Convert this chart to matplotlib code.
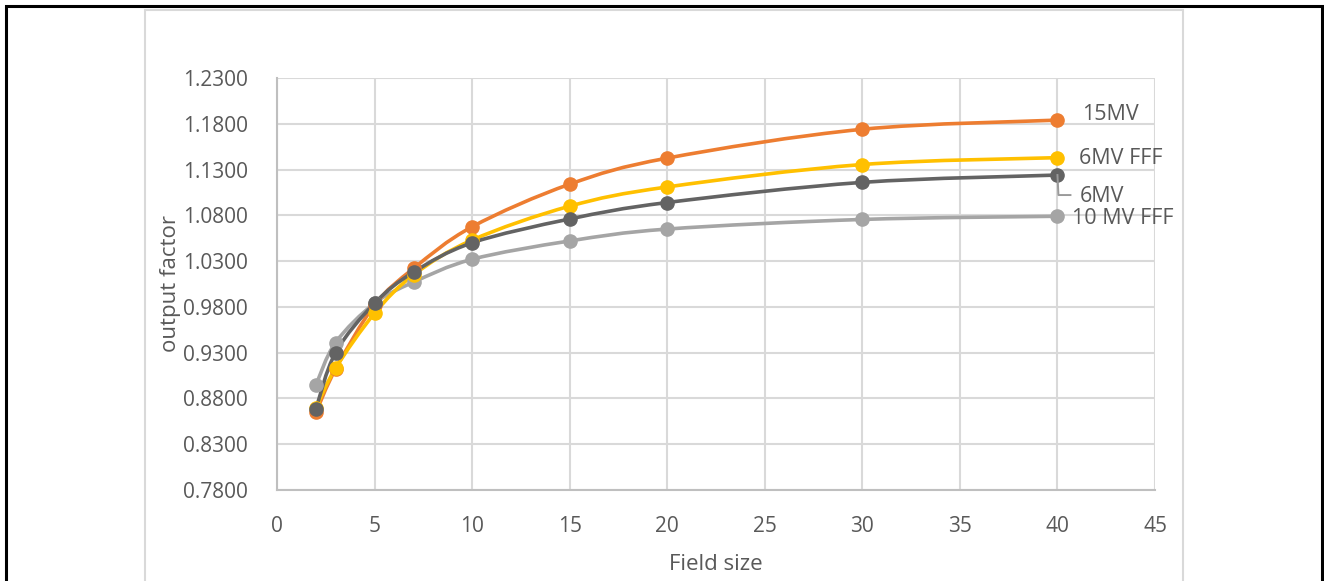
import numpy as np
import matplotlib.pyplot as plt
from matplotlib.path import Path
from matplotlib.patches import PathPatch, Rectangle
from matplotlib.lines import Line2D
from matplotlib.transforms import IdentityTransform

plt.rcParams['font.family'] = ['Open Sans', 'DejaVu Sans']

field_size = [2, 3, 5, 7, 10, 15, 20, 30, 40]

of_10mv_fff = [0.895, 0.941, 0.984, 1.007, 1.032, 1.052, 1.065, 1.0755, 1.079]
of_15mv = [0.865, 0.912, 0.982, 1.022, 1.0675, 1.114, 1.1425, 1.174, 1.184]
of_6mv_fff = [0.870, 0.913, 0.973, 1.015, 1.053, 1.090, 1.111, 1.1355, 1.143]
of_6mv = [0.869, 0.930, 0.984, 1.018, 1.050, 1.076, 1.094, 1.116, 1.124]

series = [
    ('10 MV FFF', of_10mv_fff, '#A5A5A5'),
    ('15MV', of_15mv, '#ED7D31'),
    ('6MV FFF', of_6mv_fff, '#FFC000'),
    ('6MV', of_6mv, '#636363'),
]

y_ticks = [0.78, 0.83, 0.88, 0.93, 0.98, 1.03, 1.08, 1.13, 1.18, 1.23]
x_ticks = [0, 5, 10, 15, 20, 25, 30, 35, 40, 45]

text_grey = '#595959'
grid_grey = '#D9D9D9'


def smooth_path(x, y):
    # spreadsheet-style smoothed line: cubic bezier through every point
    pts = np.column_stack([x, y]).astype(float)
    verts = [pts[0]]
    codes = [Path.MOVETO]
    n = len(pts)
    for i in range(n - 1):
        p0 = pts[max(i - 1, 0)]
        p1 = pts[i]
        p2 = pts[i + 1]
        p3 = pts[min(i + 2, n - 1)]
        c1 = p1 + (p2 - p0) / 6.0
        c2 = p2 - (p3 - p1) / 6.0
        verts += [c1, c2, p2]
        codes += [Path.CURVE4] * 3
    return Path(verts, codes)


fig = plt.figure(figsize=(13.24, 5.81), dpi=100)
fig.patch.set_facecolor('white')

# outer page frame and chart frame
fig.add_artist(Rectangle((6 / 1324, -0.05), 1316 / 1324, 1 - 6 / 581 + 0.05,
                         transform=fig.transFigure, fill=False,
                         edgecolor='black', linewidth=2.2))
fig.add_artist(Rectangle((145 / 1324, -0.05), 1038 / 1324, 1 - 10 / 581 + 0.05,
                         transform=fig.transFigure, fill=False,
                         edgecolor='#D9D9D9', linewidth=1.5))

ax = fig.add_axes([277 / 1324, 1 - 490 / 581, 878 / 1324, 412 / 581])

for name, vals, color in series:
    patch = PathPatch(smooth_path(field_size, vals), facecolor='none',
                      edgecolor=color, linewidth=2.6, capstyle='round',
                      zorder=3)
    ax.add_patch(patch)
    ax.plot(field_size, vals, linestyle='none', marker='o', markersize=9.5,
            color=color, zorder=4, clip_on=False)

ax.set_xlim(0, 45)
ax.set_ylim(0.78, 1.23)
ax.set_xticks(x_ticks)
ax.set_yticks(y_ticks)
ax.set_yticklabels([f'{v:.4f}' for v in y_ticks])
ax.grid(True, color=grid_grey, linewidth=1.5)
ax.set_axisbelow(True)

for side in ['top', 'right']:
    ax.spines[side].set_visible(False)
for side in ['left', 'bottom']:
    ax.spines[side].set_color('#BFBFBF')
    ax.spines[side].set_linewidth(1.5)

ax.tick_params(length=0, labelsize=15, labelcolor=text_grey)
ax.tick_params(axis='y', pad=21)
ax.tick_params(axis='x', pad=19)

ax.set_xlabel('Field size', fontsize=16, color=text_grey, labelpad=12)
ax.set_ylabel('output factor', fontsize=16, color=text_grey, labelpad=1)

# series labels at the right-hand end
label_style = dict(fontsize=15.5, color=text_grey, va='center', ha='left',
                   textcoords='offset pixels')
ax.annotate('15MV', xy=(40, of_15mv[-1]), xytext=(25, 6), **label_style)
ax.annotate('6MV FFF', xy=(40, of_6mv_fff[-1]), xytext=(22, -1), **label_style)
ax.annotate('10 MV FFF', xy=(40, of_10mv_fff[-1]), xytext=(15, -2),
            **label_style)
ax.annotate('6MV', xy=(40, of_6mv[-1]), xytext=(22, -21), **label_style)

# leader line from the 6MV end point down to its label
px, py = ax.transData.transform((40, of_6mv[-1]))
fig.add_artist(Line2D([px, px + 1, px + 13], [py, py - 20, py - 20],
                      transform=IdentityTransform(), color='#9A9A9A',
                      linewidth=1.4, zorder=5))

fig.savefig('out.png', dpi=100)
